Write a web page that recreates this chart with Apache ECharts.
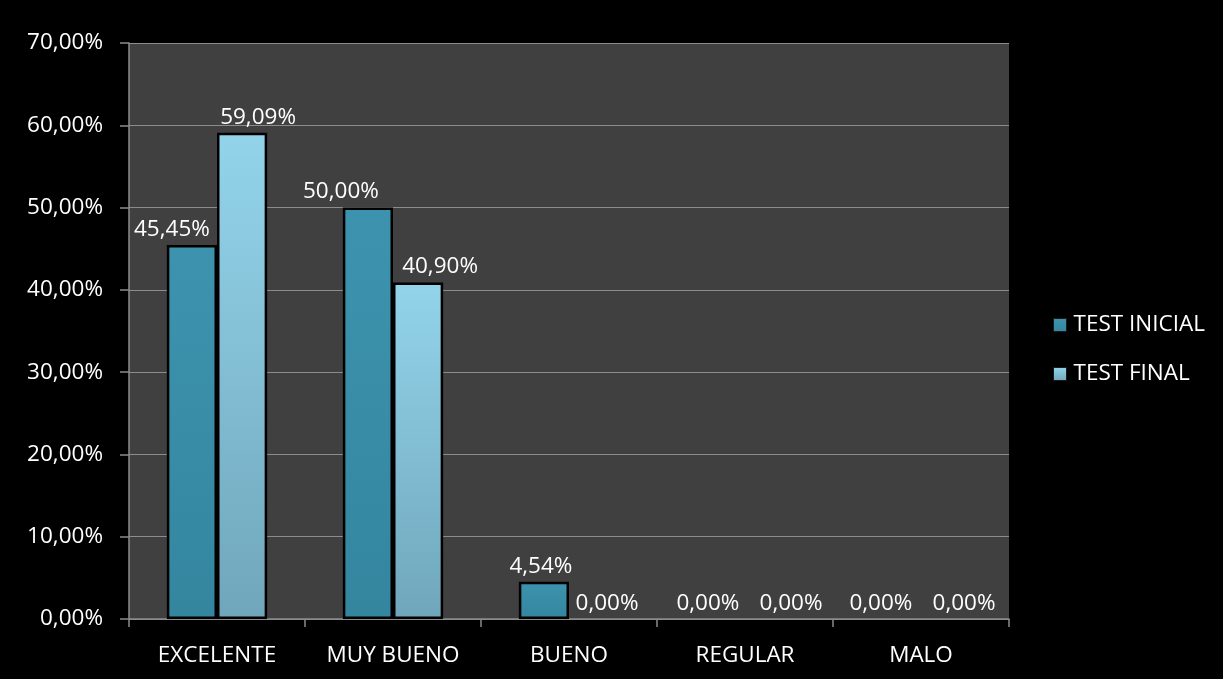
<!DOCTYPE html>
<html>
<head>
<meta charset="utf-8">
<script src="https://cdn.jsdelivr.net/npm/echarts@6/dist/echarts.min.js"></script>
<style>
  html, body { margin: 0; padding: 0; background: #000; }
  #chart { width: 1223px; height: 679px; }
</style>
</head>
<body>
<div id="chart"></div>
<script>
// Resultados por categoría (porcentaje)
const categorias = ['EXCELENTE', 'MUY BUENO', 'BUENO', 'REGULAR', 'MALO'];
const testInicial = [45.45, 50.00, 4.54, 0.00, 0.00];
const testFinal = [59.09, 40.90, 0.00, 0.00, 0.00];
const nombresSeries = ['TEST INICIAL', 'TEST FINAL'];

// horizontal shift of each value label, to keep neighbours apart
const despInicial = [-20, -27, -3, -12, -15];
const despFinal = [16, 22, 13, 21, 18];

const FONT = '"Open Sans", Lato, sans-serif';
const FS = 22.5;
const fmt = v => v.toFixed(2).replace('.', ',') + '%';

const grad = (top, bottom) => new echarts.graphic.LinearGradient(0, 0, 0, 1, [
  { offset: 0, color: top }, { offset: 1, color: bottom }
]);

const colorInicial = grad('#3d93ae', '#34869f');
const colorFinal = grad('#93d4eb', '#70a6bb');

function serie(nombre, valores, desp, color) {
  return {
    name: nombre,
    type: 'bar',
    barGap: '0%',
    barCategoryGap: '43%',
    itemStyle: { color: color, borderColor: '#000', borderWidth: 2.5 },
    data: valores.map((v, i) => ({
      value: v,
      itemStyle: v === 0 ? { borderWidth: 0 } : undefined,
      label: { offset: [desp[i], 0] }
    })),
    label: {
      show: true,
      position: 'top',
      distance: 4,
      color: '#fff',
      fontFamily: FONT,
      fontSize: FS,
      formatter: p => fmt(p.value)
    }
  };
}

const chart = echarts.init(document.getElementById('chart'));
chart.setOption({
  backgroundColor: '#000',
  animation: false,
  grid: {
    left: 129, right: 214, top: 43, bottom: 60,
    show: true, backgroundColor: '#404040', borderWidth: 0
  },
  legend: {
    orient: 'vertical',
    left: 1053,
    top: 313,
    padding: 0,
    itemGap: 25,
    itemWidth: 13,
    itemHeight: 13,
    icon: 'rect',
    itemStyle: { borderColor: '#1a1a1a', borderWidth: 1 },
    textStyle: { color: '#fff', fontFamily: FONT, fontSize: FS, lineHeight: 24, padding: [0, 0, 0, 2] },
    data: nombresSeries
  },
  xAxis: {
    type: 'category',
    data: categorias,
    axisLine: { lineStyle: { color: '#8c8c8c', width: 1.5 } },
    axisTick: { show: true, length: 8, lineStyle: { color: '#8c8c8c', width: 1.5 } },
    axisLabel: { color: '#fff', fontFamily: FONT, fontSize: FS, margin: 25 }
  },
  yAxis: {
    type: 'value',
    min: 0,
    max: 70,
    interval: 10,
    axisLine: { show: true, lineStyle: { color: '#8c8c8c', width: 1.5 } },
    axisTick: { show: true, length: 9, lineStyle: { color: '#8c8c8c', width: 1.5 } },
    splitLine: { lineStyle: { color: '#8c8c8c', width: 1 } },
    axisLabel: { color: '#fff', fontFamily: FONT, fontSize: FS, margin: 26, formatter: v => fmt(v) }
  },
  series: [
    serie(nombresSeries[0], testInicial, despInicial, colorInicial),
    serie(nombresSeries[1], testFinal, despFinal, colorFinal)
  ]
});
</script>
</body>
</html>
